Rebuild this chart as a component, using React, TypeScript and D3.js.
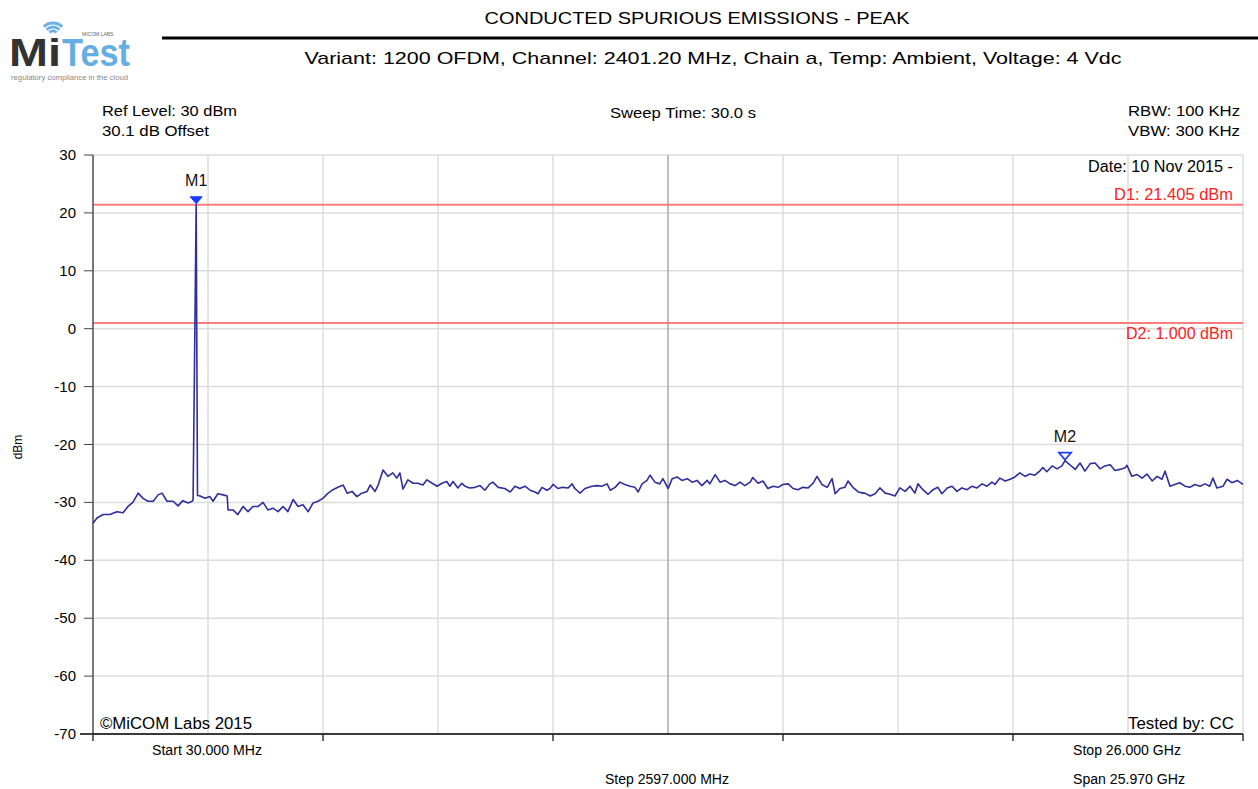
import React from 'react';
import * as d3 from 'd3';

// trace: frequency (GHz) and level (dBm)
const traceFreq = [
  0.03, 0.12, 0.26, 0.41, 0.57, 0.71, 0.82, 0.93, 1.05, 1.16, 1.27, 1.39, 1.5, 1.59, 1.7, 1.84, 1.95, 2.06, 2.18, 2.27,
  2.29, 2.36, 2.39, 2.45, 2.56, 2.67, 2.74, 2.85, 2.97, 3.06, 3.08, 3.19, 3.3, 3.42, 3.53, 3.64, 3.76, 3.87, 3.98, 4.09,
  4.21, 4.32, 4.43, 4.55, 4.66, 4.77, 4.89, 5.0, 5.11, 5.22, 5.34, 5.45, 5.56, 5.68, 5.77, 5.88, 5.99, 6.1, 6.22, 6.29,
  6.4, 6.47, 6.58, 6.69, 6.8, 6.89, 6.96, 7.03, 7.14, 7.26, 7.37, 7.48, 7.57, 7.69, 7.8, 7.91, 8.02, 8.09, 8.16, 8.27,
  8.36, 8.43, 8.54, 8.66, 8.77, 8.88, 8.99, 9.06, 9.18, 9.33, 9.45, 9.56, 9.67, 9.79, 9.9, 10.01, 10.08, 10.17, 10.28, 10.35,
  10.42, 10.53, 10.64, 10.76, 10.85, 10.91, 11.03, 11.14, 11.3, 11.41, 11.52, 11.64, 11.71, 11.82, 11.93, 12.04, 12.16, 12.27, 12.34, 12.43,
  12.54, 12.61, 12.72, 12.83, 12.9, 13.02, 13.11, 13.22, 13.33, 13.45, 13.56, 13.67, 13.78, 13.9, 13.96, 14.08, 14.19, 14.3, 14.42, 14.53,
  14.64, 14.75, 14.87, 14.93, 15.05, 15.16, 15.27, 15.39, 15.5, 15.61, 15.73, 15.84, 15.95, 16.06, 16.18, 16.29, 16.38, 16.49, 16.61, 16.72,
  16.79, 16.9, 17.01, 17.08, 17.19, 17.31, 17.42, 17.46, 17.58, 17.69, 17.8, 17.92, 18.03, 18.14, 18.25, 18.37, 18.48, 18.59, 18.66, 18.77,
  18.89, 19.0, 19.11, 19.2, 19.32, 19.43, 19.54, 19.65, 19.77, 19.88, 19.99, 20.11, 20.22, 20.33, 20.4, 20.51, 20.63, 20.74, 20.85, 20.96,
  21.08, 21.19, 21.3, 21.42, 21.48, 21.57, 21.69, 21.8, 21.91, 21.98, 22.09, 22.21, 22.32, 22.43, 22.55, 22.66, 22.77, 22.88, 23.0, 23.11,
  23.22, 23.34, 23.38, 23.49, 23.61, 23.72, 23.83, 23.95, 24.06, 24.17, 24.24, 24.35, 24.46, 24.57, 24.69, 24.8, 24.91, 25.03, 25.14, 25.25,
  25.32, 25.41, 25.55, 25.64, 25.75, 25.87, 26.0,
];
const traceLevel = [
  -33.6, -32.7, -32.1, -32.1, -31.6, -31.8, -30.7, -30.0, -28.4, -29.3, -29.8, -29.8, -28.7, -28.4, -29.8, -29.8, -30.6, -29.7, -30.1, -29.8,
  -29.6, 21.4, -28.8, -28.9, -29.3, -29.0, -29.8, -28.5, -28.7, -28.9, -31.3, -31.3, -32.1, -30.7, -31.6, -30.7, -30.7, -30.0, -31.3, -31.0,
  -31.6, -30.7, -31.6, -29.5, -30.7, -30.4, -31.6, -30.1, -29.8, -29.3, -28.4, -27.8, -27.4, -27.0, -28.4, -28.1, -29.0, -28.4, -28.1, -27.0,
  -28.1, -27.0, -24.4, -25.5, -24.9, -25.8, -24.9, -27.7, -26.1, -26.7, -26.7, -27.0, -26.1, -26.7, -27.2, -26.7, -26.4, -27.2, -26.4, -27.5,
  -26.7, -27.2, -27.5, -27.4, -27.1, -27.9, -26.8, -26.5, -27.4, -27.6, -28.2, -27.2, -27.6, -27.2, -27.9, -28.2, -28.5, -27.4, -27.9, -27.6,
  -26.9, -27.6, -27.4, -27.5, -26.8, -27.6, -28.4, -27.6, -27.2, -27.1, -27.2, -26.8, -27.9, -27.4, -26.5, -26.9, -27.2, -27.4, -28.2, -26.8,
  -26.2, -25.3, -26.5, -26.8, -25.9, -27.6, -25.9, -25.6, -26.2, -25.9, -26.5, -26.2, -27.1, -26.2, -26.8, -25.2, -26.5, -26.2, -26.8, -27.1,
  -26.5, -27.1, -26.5, -25.7, -26.7, -26.3, -27.6, -27.2, -27.4, -26.9, -26.8, -27.6, -27.8, -27.4, -27.5, -26.7, -25.5, -26.9, -27.4, -25.9,
  -28.5, -27.6, -27.4, -26.3, -27.4, -28.2, -28.4, -28.4, -28.9, -28.5, -27.5, -28.4, -28.6, -28.9, -27.5, -28.1, -27.2, -28.4, -26.8, -27.8,
  -28.6, -27.8, -27.4, -28.5, -27.5, -27.2, -28.1, -27.5, -27.8, -27.2, -27.5, -26.8, -27.2, -26.5, -26.9, -25.8, -26.3, -26.0, -25.6, -24.9,
  -25.5, -25.1, -25.3, -24.5, -24.0, -24.7, -23.7, -24.2, -23.7, -22.8, -23.5, -24.3, -23.2, -24.6, -23.3, -23.2, -24.2, -23.7, -23.5, -24.5,
  -24.3, -24.0, -23.6, -25.5, -25.2, -25.8, -25.1, -26.3, -25.5, -26.0, -24.6, -27.2, -26.9, -26.6, -27.2, -27.4, -26.9, -27.2, -26.8, -27.2,
  -25.8, -27.5, -27.2, -26.0, -26.6, -26.2, -26.9,
];

const yTicks = [30, 20, 10, 0, -10, -20, -30, -40, -50, -60, -70];
const xGridGHz = [0.03, 2.627, 5.224, 7.821, 10.418, 13.015, 15.612, 18.209, 20.806, 23.403, 26.0];
const xTickGHz = [0.03, 5.224, 10.418, 15.612, 20.806, 26.0];

const displayLines = [
  { label: 'D1: 21.405 dBm', value: 21.405 },
  { label: 'D2: 1.000 dBm', value: 1.0 },
];
const markers = [
  { name: 'M1', freq: 2.36, level: 21.4, filled: true },
  { name: 'M2', freq: 21.98, level: -22.8, filled: false },
];

const W = 1258;
const H = 789;
const plot = { left: 93, right: 1243, top: 155, bottom: 734 };
const font = '"Liberation Sans", Arial, sans-serif';

// text stretched to the width it has in the reference
const Txt = ({
  x,
  y,
  w,
  size = 15,
  anchor = 'start',
  fill = '#000',
  children,
}: {
  x: number;
  y: number;
  w: number;
  size?: number;
  anchor?: string;
  fill?: string;
  children: React.ReactNode;
}) => (
  <text x={x} y={y} fontSize={size} textAnchor={anchor} fill={fill} textLength={w} lengthAdjust="spacingAndGlyphs">
    {children}
  </text>
);

export default function App() {
  const x = d3.scaleLinear().domain([0.03, 26.0]).range([plot.left, plot.right]);
  const y = d3.scaleLinear().domain([-70, 30]).range([plot.bottom, plot.top]);

  const pts: [number, number][] = traceFreq.map((f, i) => [f, traceLevel[i]]);
  const line = d3
    .line<[number, number]>()
    .x((d) => x(d[0]))
    .y((d) => y(d[1]));

  return (
    <svg
      width={W}
      height={H}
      style={{ position: 'absolute', left: 0, top: 0, background: '#fff' }}
      fontFamily={font}
    >
      {/* logo */}
      <g>
        {[5, 9, 13].map((r) => (
          <path
            key={r}
            d={d3.arc()({
              innerRadius: r - 1.4,
              outerRadius: r + 1.4,
              startAngle: -Math.PI / 4,
              endAngle: Math.PI / 4,
            }) ?? ''}
            transform="translate(53,36)"
            fill="#6ab0e4"
          />
        ))}
        <Txt x={9} y={66} w={52} size={39} fill="#333">
          <tspan fontWeight="bold">Mi</tspan>
        </Txt>
        <Txt x={62} y={66} w={68} size={39} fill="#64aee3">
          <tspan fontWeight="bold">Test</tspan>
        </Txt>
        <text x={82} y={36} fontSize={5} fill="#666">
          MICOM LABS
        </text>
        <Txt x={11} y={80} w={117} size={7} fill="#888">
          regulatory compliance in the cloud
        </Txt>
      </g>

      {/* header */}
      <Txt x={697} y={24} w={425} size={17} anchor="middle">
        CONDUCTED SPURIOUS EMISSIONS - PEAK
      </Txt>
      <line x1={162} x2={W} y1={38} y2={38} stroke="#000" strokeWidth={3} />
      <Txt x={713} y={64} w={817} size={17} anchor="middle">
        Variant: 1200 OFDM, Channel: 2401.20 MHz, Chain a, Temp: Ambient, Voltage: 4 Vdc
      </Txt>

      <Txt x={102} y={116} w={135}>Ref Level: 30 dBm</Txt>
      <Txt x={102} y={136} w={107}>30.1 dB Offset</Txt>
      <Txt x={683} y={118} w={146} anchor="middle">Sweep Time: 30.0 s</Txt>
      <Txt x={1240} y={116} w={112} anchor="end">RBW: 100 KHz</Txt>
      <Txt x={1240} y={136} w={112} anchor="end">VBW: 300 KHz</Txt>

      {/* grid */}
      <g>
        {yTicks.map((t) => (
          <line key={t} x1={plot.left} x2={plot.right} y1={y(t)} y2={y(t)} stroke="#dcdcdc" strokeWidth={1.5} />
        ))}
        {xGridGHz.map((f, i) => (
          <line
            key={f}
            x1={x(f)}
            x2={x(f)}
            y1={plot.top}
            y2={plot.bottom}
            stroke={i === 5 ? '#a8a8a8' : '#dcdcdc'}
            strokeWidth={1.5}
          />
        ))}
      </g>

      {/* display lines */}
      {displayLines.map((d) => (
        <g key={d.label}>
          <line x1={plot.left} x2={plot.right} y1={y(d.value)} y2={y(d.value)} stroke="#ff7070" strokeWidth={2} opacity={0.9} />
          <Txt
            x={1233}
            y={d.value > 10 ? y(d.value) - 5 : y(d.value) + 16}
            w={d.value > 10 ? 119 : 107}
            size={16}
            anchor="end"
            fill="#ff2020"
          >
            {d.label}
          </Txt>
        </g>
      ))}

      {/* axes */}
      <line x1={plot.left} x2={plot.left} y1={plot.top} y2={plot.bottom} stroke="#555" strokeWidth={1.5} />
      <line x1={80} x2={plot.right} y1={plot.bottom} y2={plot.bottom} stroke="#000" strokeWidth={1.5} />
      <g fontSize={15} fill="#000">
        {yTicks.map((t) => (
          <g key={t}>
            <line x1={84} x2={plot.left} y1={y(t)} y2={y(t)} stroke="#444" strokeWidth={1} />
            <text x={76} y={y(t) + 5} textAnchor="end">
              {t}
            </text>
          </g>
        ))}
      </g>
      {xTickGHz.map((f) => (
        <line key={f} x1={x(f)} x2={x(f)} y1={plot.bottom} y2={plot.bottom + 7} stroke="#333" strokeWidth={1.5} />
      ))}
      <text transform="translate(22,447) rotate(-90)" fontSize={12} textAnchor="middle" fill="#000">
        dBm
      </text>

      <Txt x={207} y={755} w={110} size={14} anchor="middle">Start 30.000 MHz</Txt>
      <Txt x={1127} y={755} w={108} size={14} anchor="middle">Stop 26.000 GHz</Txt>
      <Txt x={667} y={784} w={124} size={14} anchor="middle">Step 2597.000 MHz</Txt>
      <Txt x={1129} y={784} w={112} size={14} anchor="middle">Span 25.970 GHz</Txt>

      <Txt x={1233} y={172} w={145} size={16} anchor="end">Date: 10 Nov 2015 -</Txt>
      <Txt x={100} y={729} w={152} size={16}>©MiCOM Labs 2015</Txt>
      <Txt x={1234} y={729} w={106} size={16} anchor="end">Tested by: CC</Txt>

      {/* trace */}
      <path d={line(pts) ?? ''} fill="none" stroke="#2e2e9c" strokeWidth={1.6} strokeLinejoin="round" />

      {/* markers */}
      {markers.map((m) => {
        const mx = x(m.freq);
        const my = y(m.level) - 1;
        return (
          <g key={m.name}>
            <path
              d={`M${mx},${my} L${mx - 6},${my - 7} L${mx + 6},${my - 7} Z`}
              fill={m.filled ? '#1a3cff' : '#fff'}
              stroke="#1a3cff"
              strokeWidth={m.filled ? 1 : 1.8}
            />
            <text x={mx} y={my - 18} fontSize={16} textAnchor="middle" fill="#111">
              {m.name}
            </text>
          </g>
        );
      })}
    </svg>
  );
}
